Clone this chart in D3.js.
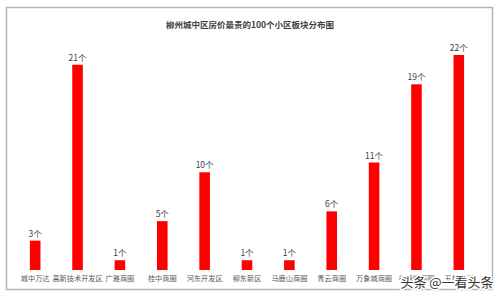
<!DOCTYPE html>
<html>
<head>
<meta charset="utf-8">
<script src="https://cdn.jsdelivr.net/npm/d3@7"></script>
<style>
  body { margin: 0; background: #fff; }
  svg { display: block; font-family: "Noto Sans CJK SC", "Noto Sans", sans-serif; }
</style>
</head>
<body>
<svg></svg>
<script>
const title = "柳州城中区房价最贵的100个小区板块分布图";
const categories = ["城中万达", "高新技术开发区", "广雅商圈", "桂中商圈", "河东开发区", "柳东新区",
  "马鹿山商圈", "青云商圈", "万象城商圈", "谷埠街商圈", "五星商圈"];
const counts = [3, 21, 1, 5, 10, 1, 1, 6, 11, 19, 22];
const unit = "个";
const watermark = "头条 @一看头条";

const data = categories.map((c, i) => ({ name: c, value: counts[i] }));

const width = 500, height = 294;

const svg = d3.select("svg")
  .attr("width", width)
  .attr("height", height);

// chart frame
svg.append("rect")
  .attr("x", 6.5)
  .attr("y", 7.5)
  .attr("width", 486)
  .attr("height", 282)
  .attr("fill", "#fff")
  .attr("stroke", "#b4b4b4")
  .attr("stroke-width", 1.5);

svg.append("text")
  .attr("x", 250)
  .attr("y", 28)
  .attr("text-anchor", "middle")
  .attr("font-size", 8.5)
  .attr("font-weight", "bold")
  .attr("fill", "#404040")
  .text(title);

const xScale = d3.scaleBand()
  .domain(categories)
  .range([14, 480])
  .paddingInner(0.75)
  .paddingOuter(0.375);

const yScale = d3.scaleLinear()
  .domain([0, 22])
  .range([270, 55]);

const xAxis = d3.axisBottom(xScale).tickSize(0).tickPadding(6);

const xAxisGroup = svg.append("g")
  .attr("class", "x axis")
  .attr("transform", `translate(0,${yScale(0)})`)
  .call(xAxis);

xAxisGroup.select(".domain").remove();
xAxisGroup.selectAll("text")
  .attr("font-size", 7.2)
  .attr("fill", "#595959")
  .attr("font-family", "\"Noto Sans CJK SC\", sans-serif");

svg.selectAll(".bar")
  .data(data)
  .enter().append("rect")
  .attr("class", "bar")
  .attr("x", d => xScale(d.name))
  .attr("y", d => yScale(d.value))
  .attr("width", xScale.bandwidth())
  .attr("height", d => yScale(0) - yScale(d.value))
  .attr("fill", "#ff0000");

svg.selectAll(".val")
  .data(data)
  .enter().append("text")
  .attr("class", "val")
  .attr("x", d => xScale(d.name) + xScale.bandwidth() / 2)
  .attr("y", d => yScale(d.value) - 4)
  .attr("text-anchor", "middle")
  .attr("font-size", 8.5)
  .attr("fill", "#404040")
  .text(d => d.value + unit);

// watermark over the last labels
svg.append("text")
  .attr("x", 447)
  .attr("y", 287)
  .attr("text-anchor", "middle")
  .attr("font-size", 13)
  .attr("fill", "#333")
  .attr("stroke", "#fff")
  .attr("stroke-width", 3)
  .attr("paint-order", "stroke")
  .text(watermark);
</script>
</body>
</html>
